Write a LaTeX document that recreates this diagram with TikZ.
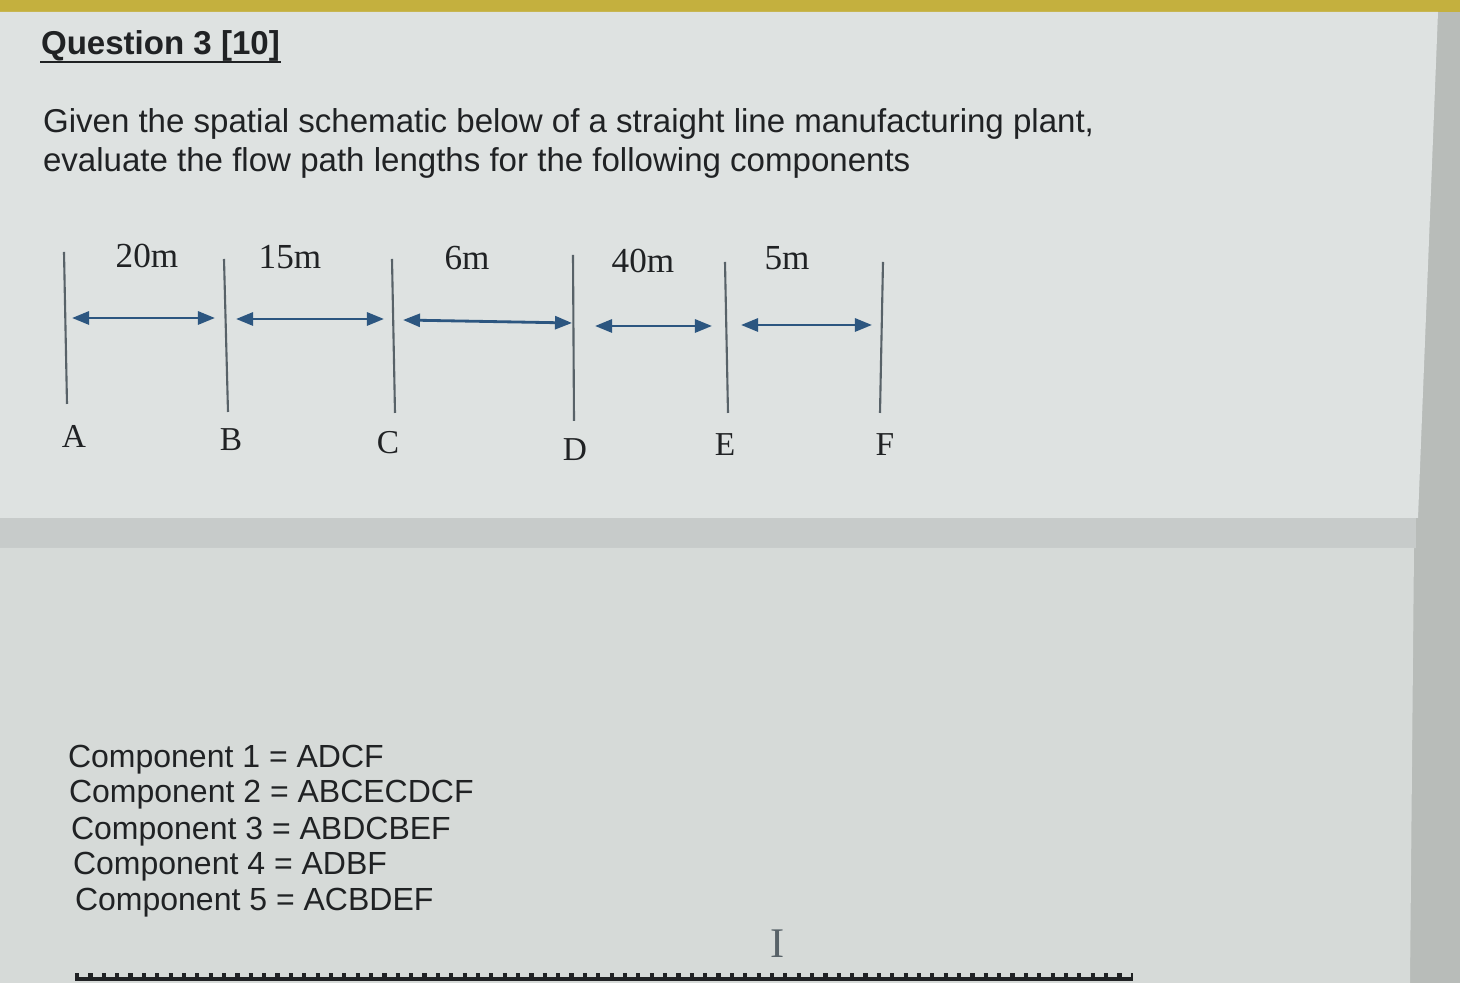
\documentclass[tikz,border=0pt]{standalone}
\usepackage{fontspec}
\setmainfont{Liberation Sans}
\newfontfamily\labelfont{Liberation Serif}
\usetikzlibrary{arrows.meta}
\definecolor{screen}{RGB}{184,188,185}
\definecolor{panel}{RGB}{222,226,225}
\definecolor{lowpanel}{RGB}{214,218,216}
\definecolor{band}{RGB}{199,203,202}
\definecolor{tabbar}{RGB}{196,176,62}
\definecolor{ink}{RGB}{32,34,36}
\definecolor{postgray}{RGB}{88,98,104}
\definecolor{spanblue}{RGB}{44,86,128}

\begin{document}
\begin{tikzpicture}[x=0.01cm,y=-0.01cm,>={Triangle[length=1.7mm,width=1.3mm]},
                    semithick]
  \tikzstyle{every node}=[inner sep=0pt,text=ink]
  \tikzstyle{post}=[draw=postgray,line width=0.6pt]
  \tikzstyle{span}=[<->,draw=spanblue,line width=0.8pt]
  \tikzstyle{dist}=[font=\labelfont\fontsize{10}{12}\selectfont]
  \tikzstyle{station}=[font=\labelfont\fontsize{9.5}{12}\selectfont]
  \tikzstyle{body}=[anchor=base west,font=\fontsize{9.4}{11}\selectfont]
  \tikzstyle{comp}=[body,font=\fontsize{9.1}{11}\selectfont]

  \useasboundingbox (0,0) rectangle (1460,983);
  % screen and panels
  \fill[screen] (0,0) rectangle (1460,983);
  \fill[tabbar] (0,0) rectangle (1460,12);
  \fill[panel] (0,12) -- (1438,12) -- (1418,518) -- (0,518) -- cycle;
  \fill[band] (0,518) rectangle (1416,548);
  \fill[lowpanel] (0,548) -- (1414,548) -- (1410,983) -- (0,983) -- cycle;

  % question text
  \node[body,font=\bfseries\fontsize{9.4}{11}\selectfont] (title) at (40,55) {Question 3 [10]};
  \draw[ink,line width=0.8pt] ([yshift=-0.07cm]title.base west) -- ([yshift=-0.07cm]title.base east);
  \node[body] (line1) at (42,133) {Given the spatial schematic below of a straight line manufacturing plant,};
  \node[body] (line2) at (42,172) {evaluate the flow path lengths for the following components};

  % stations
  \draw[post] (64,252) -- (67,404);
  \draw[post] (224,259) -- (228,412);
  \draw[post] (392,259) -- (395,413);
  \draw[post] (573,255) -- (574,421);
  \draw[post] (725,262) -- (728,413);
  \draw[post] (883,262) -- (880,413);

  \node[station] (A) at (74,436) {A};
  \node[station] (B) at (231,440) {B};
  \node[station] (C) at (388,443) {C};
  \node[station] (D) at (575,450) {D};
  \node[station] (E) at (725,445) {E};
  \node[station] (F) at (885,445) {F};

  % distances
  \coordinate (ab1) at (72,318);  \coordinate (ab2) at (215,318);
  \coordinate (bc1) at (236,319); \coordinate (bc2) at (384,319);
  \coordinate (cd1) at (403,320); \coordinate (cd2) at (572,323);
  \coordinate (de1) at (595,326); \coordinate (de2) at (712,326);
  \coordinate (ef1) at (741,325); \coordinate (ef2) at (872,325);
  \draw[span] (ab1) -- (ab2);
  \draw[span] (bc1) -- (bc2);
  \draw[span] (cd1) -- (cd2);
  \draw[span] (de1) -- (de2);
  \draw[span] (ef1) -- (ef2);

  \node[dist] (AB) at (147,256) {20m};
  \node[dist] (BC) at (290,257) {15m};
  \node[dist] (CD) at (467,258) {6m};
  \node[dist] (DE) at (643,261) {40m};
  \node[dist] (EF) at (787,258) {5m};

  % components
  \node[comp] (comp1) at (67,768) {Component 1 = ADCF};
  \node[comp] (comp2) at (68,803) {Component 2 = ABCECDCF};
  \node[comp] (comp3) at (70,840) {Component 3 = ABDCBEF};
  \node[comp] (comp4) at (72,875) {Component 4 = ADBF};
  \node[comp] (comp5) at (74,911) {Component 5 = ACBDEF};

  \node[font=\labelfont\fontsize{12}{14}\selectfont,text=postgray] (cursor) at (778,944) {I};
  \draw[ink,line width=1pt] (75,979) -- (1133,979);
  \draw[ink,line width=1.2pt,dash pattern=on 1.2pt off 2.6pt] (75,975) -- (1133,975);
\end{tikzpicture}
\end{document}
